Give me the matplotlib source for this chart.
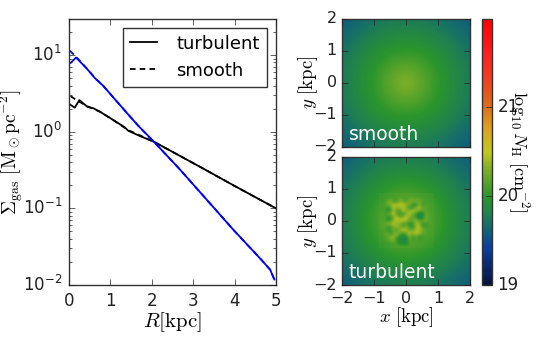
import numpy as np
import matplotlib
matplotlib.use('Agg')
import matplotlib.pyplot as plt
from matplotlib.colors import LinearSegmentedColormap

# radial profiles
r_blue_turb = [0.04, 0.17, 0.44, 0.63, 0.83, 1.07, 1.43, 1.67, 2.05, 2.66, 3.33, 3.97, 4.61, 4.86, 4.96]
s_blue_turb = [7.9, 9.3, 6.56, 4.97, 3.95, 2.8, 1.68, 1.2, 0.74, 0.33, 0.129, 0.0525, 0.0224, 0.0158, 0.0118]
r_blue_smooth = [0.02, 0.17, 0.44, 0.63, 0.83, 1.07, 1.43, 1.67, 2.05, 2.66, 3.33, 3.97, 4.61, 4.86, 4.96]
s_blue_smooth = [11.4, 9.5, 6.6, 5.0, 3.95, 2.8, 1.68, 1.2, 0.74, 0.33, 0.129, 0.0525, 0.0224, 0.0158, 0.0118]
r_black_turb = [0.02, 0.14, 0.25, 0.44, 0.59, 0.75, 1.0, 1.35, 1.43, 1.71, 2.05, 3.24, 3.97, 5.0]
s_black_turb = [2.27, 2.06, 2.59, 2.12, 2.02, 1.82, 1.5, 1.14, 1.03, 0.88, 0.74, 0.331, 0.2, 0.1]
r_black_smooth = [0.04, 0.17, 0.44, 0.75, 1.0, 1.43, 2.05, 3.24, 3.97, 5.0]
s_black_smooth = [2.92, 2.6, 2.15, 1.82, 1.5, 1.05, 0.74, 0.331, 0.2, 0.1]

# maps, in hundredths of a dex above log N_H = 20
smooth_map = [
    [-40,-36,-33,-30,-27,-25,-23,-23,-22,-23,-23,-25,-27,-30,-33,-36,-40],
    [-36,-32,-29,-25,-22,-19,-17,-16,-16,-16,-17,-19,-22,-25,-29,-32,-36],
    [-33,-29,-25,-20,-17,-14,-12,-10,-10,-10,-12,-14,-17,-20,-25,-29,-33],
    [-30,-25,-20,-16,-12, -8, -6, -4, -3, -4, -6, -8,-12,-16,-20,-25,-30],
    [-27,-22,-17,-12, -7, -3,  0,  2,  3,  2,  0, -3, -7,-12,-17,-22,-27],
    [-25,-19,-14, -8, -3,  1,  7, 10, 11, 10,  7,  1, -3, -8,-14,-19,-25],
    [-23,-17,-12, -6,  0,  7, 12, 17, 18, 17, 12,  7,  0, -6,-12,-17,-23],
    [-23,-16,-10, -4,  2, 10, 17, 23, 26, 23, 17, 10,  2, -4,-10,-16,-23],
    [-22,-16,-10, -3,  3, 11, 18, 26, 33, 26, 18, 11,  3, -3,-10,-16,-22],
    [-23,-16,-10, -4,  2, 10, 17, 23, 26, 23, 17, 10,  2, -4,-10,-16,-23],
    [-23,-17,-12, -6,  0,  7, 12, 17, 18, 17, 12,  7,  0, -6,-12,-17,-23],
    [-25,-19,-14, -8, -3,  1,  7, 10, 11, 10,  7,  1, -3, -8,-14,-19,-25],
    [-27,-22,-17,-12, -7, -3,  0,  2,  3,  2,  0, -3, -7,-12,-17,-22,-27],
    [-30,-25,-20,-16,-12, -8, -6, -4, -3, -4, -6, -8,-12,-16,-20,-25,-30],
    [-33,-29,-25,-20,-17,-14,-12,-10,-10,-10,-12,-14,-17,-20,-25,-29,-33],
    [-36,-32,-29,-25,-22,-19,-17,-16,-16,-16,-17,-19,-22,-25,-29,-32,-36],
    [-40,-36,-33,-30,-27,-25,-23,-23,-22,-23,-23,-25,-27,-30,-33,-36,-40],
]
turb_outer = [
    [-39,-35,-32,-29,-26,-24,-22,-22,-20,-22,-22,-24,-26,-29,-32,-35,-39],
    [-35,-31,-28,-24,-20,-18,-16,-15,-15,-15,-16,-18,-20,-24,-28,-31,-35],
    [-32,-28,-24,-19,-16,-12,-10, -8, -8, -8,-10,-12,-16,-19,-24,-28,-32],
    [-29,-24,-19,-15,-10, -6, -3,  0,  0,  0, -3, -6,-10,-15,-19,-24,-29],
    [-26,-20,-16,-10, -5,  0,  4,  6,  7,  6,  4,  0, -5,-10,-16,-20,-26],
    [-24,-18,-12, -6,  0,  5,  8, 11, 12, 11,  8,  5,  0, -6,-12,-18,-24],
    [-22,-16,-10, -3,  4,  8, 12, 12, 12, 12, 12,  8,  4, -3,-10,-16,-22],
    [-22,-15, -8,  0,  6, 11, 12, 12, 12, 12, 12, 11,  6,  0, -8,-15,-22],
    [-20,-15, -8,  0,  7, 12, 12, 12, 12, 12, 12, 12,  7,  0, -8,-15,-20],
    [-22,-15, -8,  0,  6, 11, 12, 12, 12, 12, 12, 11,  6,  0, -8,-15,-22],
    [-22,-16,-10, -3,  4,  8, 12, 12, 12, 12, 12,  8,  4, -3,-10,-16,-22],
    [-24,-18,-12, -6,  0,  5,  8, 11, 12, 11,  8,  5,  0, -6,-12,-18,-24],
    [-26,-20,-16,-10, -5,  0,  4,  6,  7,  6,  4,  0, -5,-10,-16,-20,-26],
    [-29,-24,-19,-15,-10, -6, -3,  0,  0,  0, -3, -6,-10,-15,-19,-24,-29],
    [-32,-28,-24,-19,-16,-12,-10, -8, -8, -8,-10,-12,-16,-19,-24,-28,-32],
    [-35,-31,-28,-24,-20,-18,-16,-15,-15,-15,-16,-18,-20,-24,-28,-31,-35],
    [-39,-35,-32,-29,-26,-24,-22,-22,-20,-22,-22,-24,-26,-29,-32,-35,-39],
]
# clumpy centre of the turbulent run, -0.85..0.85 kpc
turb_core = [
    [ 3, 5, 6, 8, 9,10,11,12,12,12,11,10, 9, 8, 6, 5, 3],
    [ 5, 6, 8,10,11,12,16,14,12,18,16,14,12,10, 8, 6, 5],
    [ 6, 8,12,30,10, 6,34,20, 8,32,26,30,24,14,10, 8, 6],
    [ 8,10,24,38,40,44,46,48,36,30, 0,-2,36, 2,14,10, 8],
    [ 9,11, 2, 8,48,36,38,42,28, 4, 2,30,46,18,16,11, 9],
    [10,12,-2, 4,44,16,12,50,30,38,48,40,24,16,20,12,10],
    [11,14,12,30,52,16, 6, 4,36,46,24, 2,-22,-12,24,14,11],
    [12,14, 2,-4,28,46,28,34,46,30,18, 4,-24,-14,26,14,12],
    [12,14, 4, 0,36,50,44,54,42,16,24,36,18,22,32,14,12],
    [12,16,28,42,46,28,34, 4,10, 0, 2,46,30, 4, 2,14,12],
    [11,18, 6, 0,32,42,28,20,38, 2,-2,36,48,10, 6,14,11],
    [10,14, 2, 4,28, 6,38,52,34,30,28,44,38,30,18,12,10],
    [ 9,12,26, 2,18,44,18, 2,32,46,36,46,40,18,14,11, 9],
    [ 8,10,18,30,38,14,-4,-14,-10,30, 4,22, 0, 6,12,10, 8],
    [ 6, 8,12,24,32, 2,-14,-18,-16,24, 4,16, 4,12,10, 8, 6],
    [ 5, 6, 8,11,16, 8,-8,-12,-10,14,14,12,12,10, 8, 6, 5],
    [ 3, 5, 6, 8, 9,12,12,12,12,12,11,10, 9, 8, 6, 5, 3],
]

cmap_pos = [0.0, 0.14, 0.2, 0.26, 0.33, 0.43, 0.5, 0.6, 0.667, 0.77, 0.87, 1.0]
cmap_col = ['#05143c', '#0b3f9f', '#10607a', '#1f7f52', '#2a962c', '#7aae28', '#c4c820',
            '#df9a20', '#d8701e', '#f04020', '#ff2020', '#ff0000']

plt.style.use('classic')
plt.rcParams['font.family'] = 'DejaVu Sans'
plt.rcParams['mathtext.fontset'] = 'cm'
plt.rcParams['font.size'] = 11
plt.rcParams['lines.dashed_pattern'] = [4, 3]
plt.rcParams['axes.edgecolor'] = '#333333'
plt.rcParams['xtick.color'] = '#222222'
plt.rcParams['ytick.color'] = '#222222'

W, H = 538.0, 338.0
fig = plt.figure(figsize=(W / 100, H / 100), dpi=100, facecolor='white')

def box(x0, y0, x1, y1):
    return [x0 / W, 1 - y1 / H, (x1 - x0) / W, (y1 - y0) / H]

cm = LinearSegmentedColormap.from_list('nh', list(zip(cmap_pos, cmap_col)), N=256)

# profile panel
ax = fig.add_axes(box(69, 18.5, 276, 285))
ax.plot(r_black_turb, s_black_turb, 'k-', lw=1.3, label='turbulent')
ax.plot(r_black_smooth, s_black_smooth, 'k--', lw=1.3, label='smooth')
ax.plot(r_blue_turb, s_blue_turb, 'b-', lw=1.3)
ax.plot(r_blue_smooth, s_blue_smooth, 'b--', lw=1.3)
ax.set_yscale('log')
ax.set_xlim(0, 5)
ax.set_ylim(0.01, 30)
ax.set_xlabel(r'$R[{\rm kpc}]$', fontsize=15, labelpad=0)
ax.set_ylabel(r'$\Sigma_{\rm gas}\ [{\rm M_\odot pc^{-2}}]$', fontsize=14)
ax.yaxis.set_label_coords((25 - 69) / 207.0, 0.5)
ax.tick_params(labelsize=12, pad=5)
ax.legend(loc='upper right', fontsize=13, frameon=True, fancybox=False, handlelength=1.5,
          handletextpad=1.05, borderaxespad=0.5, numpoints=1)

# map panels
ext = [-2, 2, -2, 2]
core_ext = [-0.85, 0.85, -0.85, 0.85]
ax1 = fig.add_axes(box(342.3, 18.5, 470.3, 146.5))
ax2 = fig.add_axes(box(342.3, 156.7, 470.3, 285))
im = ax1.imshow(20 + np.array(smooth_map) / 100, extent=ext, cmap=cm, vmin=19, vmax=22,
                interpolation='bicubic', aspect='auto')
ax2.imshow(20 + np.array(turb_outer) / 100, extent=ext, cmap=cm, vmin=19, vmax=22,
           interpolation='bicubic', aspect='auto')
ax2.imshow(20 + np.array(turb_core) / 100, extent=core_ext, cmap=cm, vmin=19, vmax=22,
           interpolation='bicubic', aspect='auto')
for a, name in [(ax1, 'smooth'), (ax2, 'turbulent')]:
    a.set_xlim(-2, 2)
    a.set_ylim(-2, 2)
    a.set_xticks([-2, -1, 0, 1, 2])
    a.set_yticks([-2, -1, 0, 1, 2])
    a.tick_params(labelsize=11.5, pad=4)
    a.set_ylabel(r'$y\ [{\rm kpc}]$', fontsize=13.5)
    a.yaxis.set_label_coords((320 - 342.3) / 128.0, 0.5)
    a.text(0.05, 0.02, name, transform=a.transAxes, color='white', fontsize=13.5, va='bottom')
ax1.set_xticklabels([])
ax2.set_xlabel(r'$x\ [{\rm kpc}]$', fontsize=13.5, labelpad=0)

# colorbar
cax = fig.add_axes(box(481.7, 18.5, 491.7, 285))
cb = fig.colorbar(im, cax=cax, ticks=[19, 20, 21])
cb.ax.tick_params(labelsize=12, pad=4)
cb.set_label(r'$\log_{10}N_{\rm H}\ [{\rm cm^{-2}}]$', fontsize=13, rotation=270)
cb.ax.yaxis.set_label_coords((531 - 481.7) / 10.0, 0.5)

fig.savefig('out.png', dpi=100, facecolor='white')
